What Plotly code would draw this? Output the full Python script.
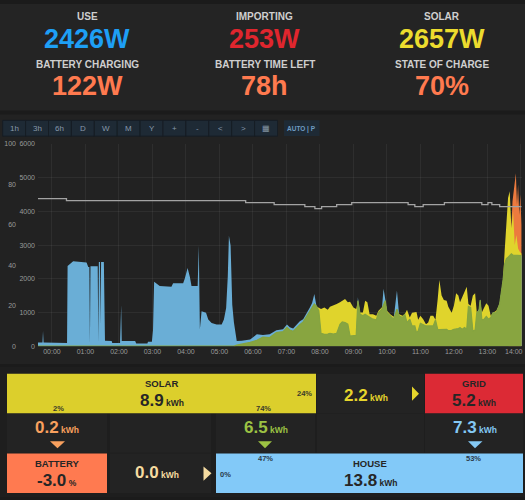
import numpy as np
import pandas as pd
import plotly.graph_objects as go

W, H = 525, 500

# --- headline stats ---
stat_labels = ["USE", "IMPORTING", "SOLAR", "BATTERY CHARGING", "BATTERY TIME LEFT", "STATE OF CHARGE"]
stat_values = ["2426W", "253W", "2657W", "122W", "78h", "70%"]
stat_colors = ["#1e9ff5", "#e0262e", "#ecdc2e", "#ff7a4f", "#ff7a4f", "#ff7a4f"]

# --- time series (minutes from midnight) ---
minutes = [-26, -17, -16, -15, 27, 28, 38, 50, 62, 65, 67, 68, 69, 82, 83, 84, 86, 87, 88, 93,
           95, 107, 108, 122, 123, 124, 125, 149, 151, 171, 172, 179, 181, 183, 193, 214, 217, 235,
           238, 243, 247, 250, 261, 263, 265, 268, 276, 280, 286, 295, 304, 308, 312, 315, 317, 320,
           323, 326, 331, 340, 355, 367, 378, 390, 402, 414, 421, 426, 432, 444, 450, 456, 462, 466,
           470, 474, 478, 482, 488, 494, 498, 504, 510, 516, 520, 525, 530, 534, 540, 545, 548, 552,
           557, 561, 565, 569, 575, 581, 585, 591, 594, 597, 600, 606, 612, 618, 622, 628, 632, 636,
           641, 645, 650, 653, 656, 660, 665, 670, 674, 678, 683, 687, 691, 694, 698, 702, 707, 710,
           716, 720, 724, 728, 731, 735, 739, 743, 746, 750, 754, 758, 761, 765, 767, 770, 773, 778,
           782, 786, 790, 796, 802, 806, 808, 811, 814, 817, 820, 823, 826, 829, 832, 835, 838, 841]
use = [110, 110, 450, 110, 95, 2380, 2520, 2500, 2480, 2350, 2350, 100, 2370, 2370, 100, 2500, 2500, 640, 2500, 2500,
       160, 155, 90, 90, 1230, 1230, 155, 155, 80, 80, 130, 130, 470, 1910, 1785, 1760, 1865, 1865,
       2010, 2320, 2060, 1785, 1785, 2985, 500, 1035, 990, 790, 690, 640, 640, 790, 1130, 2080, 3280, 2985,
       1230, 700, 155, 160, 200, 350, 330, 350, 470, 500, 640, 560, 520, 740, 800, 955, 1150, 1280,
       1550, 1180, 1050, 380, 350, 360, 380, 360, 380, 650, 720, 700, 650, 300, 300, 320, 1450, 950,
       900, 950, 900, 850, 800, 780, 1000, 1100, 1700, 1400, 1000, 900, 800, 1650, 900, 850, 950, 700,
       800, 600, 600, 400, 450, 680, 650, 600, 600, 600, 600, 780, 500, 490, 490, 480, 500, 460,
       470, 500, 500, 520, 550, 500, 550, 500, 1180, 1150, 450, 480, 990, 1100, 1400, 800, 780, 880,
       800, 850, 1000, 990, 1280, 1700, 1960, 2450, 2600, 2640, 2700, 2740, 2700, 2700, 2700, 2680, 2690, 2690]
solar = [0, 0, 0, 0, 0, 0, 0, 0, 0, 0, 0, 0, 0, 0, 0, 0, 0, 0, 0, 0,
         0, 0, 0, 0, 0, 0, 0, 0, 0, 0, 0, 0, 0, 0, 0, 0, 0, 0,
         0, 0, 0, 0, 0, 0, 0, 0, 0, 0, 0, 0, 0, 0, 0, 0, 0, 0,
         0, 0, 30, 60, 110, 175, 270, 255, 400, 430, 560, 480, 440, 640, 720, 880, 1050, 1180,
         1250, 1180, 1130, 1100, 1150, 1080, 1170, 1200, 1250, 1300, 1350, 1400, 1300, 1320, 1150, 1100, 1350, 1000,
         1000, 1350, 1300, 950, 950, 900, 1050, 1150, 1200, 1350, 1050, 950, 870, 1100, 950, 900, 950, 1080,
         850, 990, 1000, 1010, 780, 900, 800, 650, 700, 900, 900, 780, 1400, 1960, 1500, 1370, 1350, 1170,
         990, 1200, 1570, 1500, 1300, 1460, 1600, 1760, 1250, 1200, 1500, 1570, 1000, 1050, 1370, 1000, 1100, 1270,
         1200, 900, 990, 1050, 1250, 1650, 1950, 2840, 3500, 4400, 4600, 3500, 4000, 3000, 3300, 2900, 2800, 2750]

battery_minutes = [818, 822, 825, 828, 831, 833, 835, 837, 839, 841]
battery = [0, 3200, 4300, 4700, 5130, 4200, 4800, 3900, 4500, 3600]

soc_minutes = [-26, 26, 347, 398, 453, 471, 483, 510, 537, 638, 650, 665, 703, 770, 781, 788, 802, 841]
soc = [73, 72, 71, 70, 69, 68, 69, 70, 71, 70, 69, 70, 71, 70, 71, 70, 69, 69]

buttons = ["1h", "3h", "6h", "D", "W", "M", "Y", "+", "-", "<", ">", "▦"]
last_hour_label = "14:00"

base = pd.Timestamp("2019-08-01")
t = base + pd.to_timedelta(minutes, unit="m")
tb = base + pd.to_timedelta(battery_minutes, unit="m")
ts = base + pd.to_timedelta(soc_minutes, unit="m")
overlap = np.minimum(np.array(use), np.array(solar))

FONT = "Liberation Sans"


def px(x):
    return x / W


def py(y):
    return 1 - y / H


fig = go.Figure()
fig.add_trace(go.Scatter(x=tb, y=battery, fill="tozeroy", mode="lines", line=dict(width=0),
                         fillcolor="#ec7a3e", hoverinfo="skip"))
fig.add_trace(go.Scatter(x=t, y=solar, fill="tozeroy", mode="lines", line=dict(width=0),
                         fillcolor="#e0d42c", hoverinfo="skip"))
fig.add_trace(go.Scatter(x=t, y=use, fill="tozeroy", mode="lines", line=dict(width=0),
                         fillcolor="#6aaed6", hoverinfo="skip"))
fig.add_trace(go.Scatter(x=t, y=overlap, fill="tozeroy", mode="lines", line=dict(width=1.2, color="#86a43e"),
                         fillcolor="#88a540", hoverinfo="skip"))
fig.add_trace(go.Scatter(x=ts, y=soc, mode="lines", line=dict(width=1.3, color="#a3a3a3", shape="hv"),
                         yaxis="y2", hoverinfo="skip"))

shapes = []
ann = []


def rect(x0, y0, x1, y1, color, line=None):
    shapes.append(dict(type="rect", xref="paper", yref="paper", x0=px(x0), x1=px(x1), y0=py(y1), y1=py(y0),
                       fillcolor=color, line=dict(width=1 if line else 0, color=line or color), layer="below"))


def tri(points, color):
    p = "M " + " L ".join(f"{px(a):.5f},{py(b):.5f}" for a, b in points) + " Z"
    shapes.append(dict(type="path", xref="paper", yref="paper", path=p, fillcolor=color, line=dict(width=0)))


def text(x, y, s, size, color, bold=True, xanchor="center"):
    ann.append(dict(x=px(x), y=py(y), xref="paper", yref="paper", text=s, showarrow=False,
                    xanchor=xanchor, yanchor="middle",
                    font=dict(family=FONT, size=size, color=color, weight="bold" if bold else "normal")))


def kwh(v, unit="kWh"):
    return f"{v}<span style='font-size:8.5px'> {unit}</span>"


# panels
rect(0, 0, 525, 108, "#242424")
rect(0, 112, 525, 365, "#222222")
rect(0, 368, 525, 500, "#1e1e1e")

# headline stats
cols = [87, 264.5, 441.7]
for i in range(6):
    c = cols[i % 3]
    ly = 13 if i < 3 else 61
    vy = 35.5 if i < 3 else 83.5
    text(c, ly, stat_labels[i], 10, "#cfcfcf")
    text(c, vy, stat_values[i], 27, stat_colors[i])

# range buttons
bw = 22.9
for i, b in enumerate(buttons):
    x0 = 2.7 + bw * i
    rect(x0, 118, x0 + bw, 134, "#1e2a35", "#161d24")
    text(x0 + bw / 2, 126.5, b, 8, "#8799aa", bold=False)
rect(284, 118, 319.5, 134, "#1e2a35")
text(301.7, 126.5, "AUTO | P", 6.5, "#6f9cc2")

# last hour label sits at the window edge (the axis drops it because it would overflow)
text(525, 352.5, last_hour_label, 7, "#9a9a9a", bold=False, xanchor="right")

# bottom flow panel cells
for (x0, y0, x1, y1) in [(7, 415, 107, 455), (110, 415, 211, 455), (216, 415, 315, 455),
                         (317, 415, 424, 455), (425, 415, 523, 455), (317, 375, 424, 415),
                         (110, 456, 211, 496)]:
    rect(x0, y0, x1, y1, "#232323")
rect(7, 375, 316, 415, "#dccf2c")
rect(425, 375, 523, 415, "#dc2a35")
rect(7, 456, 107, 496, "#ff7a50")
rect(216, 456, 523, 496, "#82c9f8")

dark = "#262626"
text(161.5, 385, "SOLAR", 9.5, dark)
text(161.5, 402.5, kwh(8.9), 17, dark)
text(58, 410.5, "2%", 7.5, "#3a3a2a")
text(263, 410.5, "74%", 7.5, "#3a3a2a")
text(314, 395.5, "24%", 7.5, "#3a3a2a", xanchor="right")
text(366, 397, kwh(2.2), 17, "#e6d52c")
tri([(412, 388), (419, 395.3), (412, 402.5)], "#e6d52c")
text(474, 385, "GRID", 9.5, dark)
text(474, 402.5, kwh(5.2), 17, dark)

text(56.5, 430, kwh(0.2), 17, "#f8a05e")
tri([(50, 443.5), (65, 443.5), (57.5, 450.5)], "#f8a05e")
text(266, 430, kwh(6.5), 17, "#9cc243")
tri([(258, 443.5), (272, 443.5), (265, 450.5)], "#9cc243")
text(474.5, 430, kwh(7.3), 17, "#84c8f4")
tri([(468, 443.5), (482.5, 443.5), (475, 450.5)], "#84c8f4")

text(57, 466, "BATTERY", 9.5, dark)
text(57, 483.5, kwh(-3.0, "%"), 17, dark)
text(157, 475.5, kwh(0.0), 17, "#f5dba0")
tri([(203.5, 469), (211.5, 476), (203.5, 483.5)], "#f5dba0")
text(370, 466, "HOUSE", 9.5, dark)
text(370, 483.5, kwh(13.8), 17, dark)
text(218, 477, "0%", 7.5, "#2a3a4a", xanchor="left")
text(265.5, 461, "47%", 7.5, "#2a3a4a")
text(473, 461, "53%", 7.5, "#2a3a4a")

grid = "rgba(255,255,255,0.055)"
tick = dict(family=FONT, size=7, color="#9a9a9a")
fig.update_layout(
    width=W, height=H, margin=dict(l=0, r=0, t=0, b=0),
    paper_bgcolor="#1b1b1b", plot_bgcolor="rgba(0,0,0,0)",
    showlegend=False, shapes=shapes, annotations=ann,
    xaxis=dict(domain=[px(38), px(522)], type="date",
               range=[base - pd.Timedelta(minutes=25), base + pd.Timedelta(minutes=842)],
               tickformat="%H:%M", dtick=3600000, tick0=base, tickfont=tick,
               showgrid=True, gridcolor=grid, zeroline=False, showline=False, ticks=""),
    yaxis=dict(domain=[py(347), py(142)], range=[0, 6000], dtick=1000, tickfont=tick,
               showgrid=True, gridcolor=grid, zeroline=False, showline=False, ticks="",
               ticklabelstandoff=2),
    yaxis2=dict(overlaying="y", anchor="free", position=px(16), side="left", range=[0, 100], dtick=20,
                tickfont=tick, showgrid=False, zeroline=False, showline=False, ticks=""),
)

# page body margin off so the 525x500 figure sits at the window origin
fig.write_html("out.html", config={"displayModeBar": False},
               post_script="document.body.style.margin='0';")
